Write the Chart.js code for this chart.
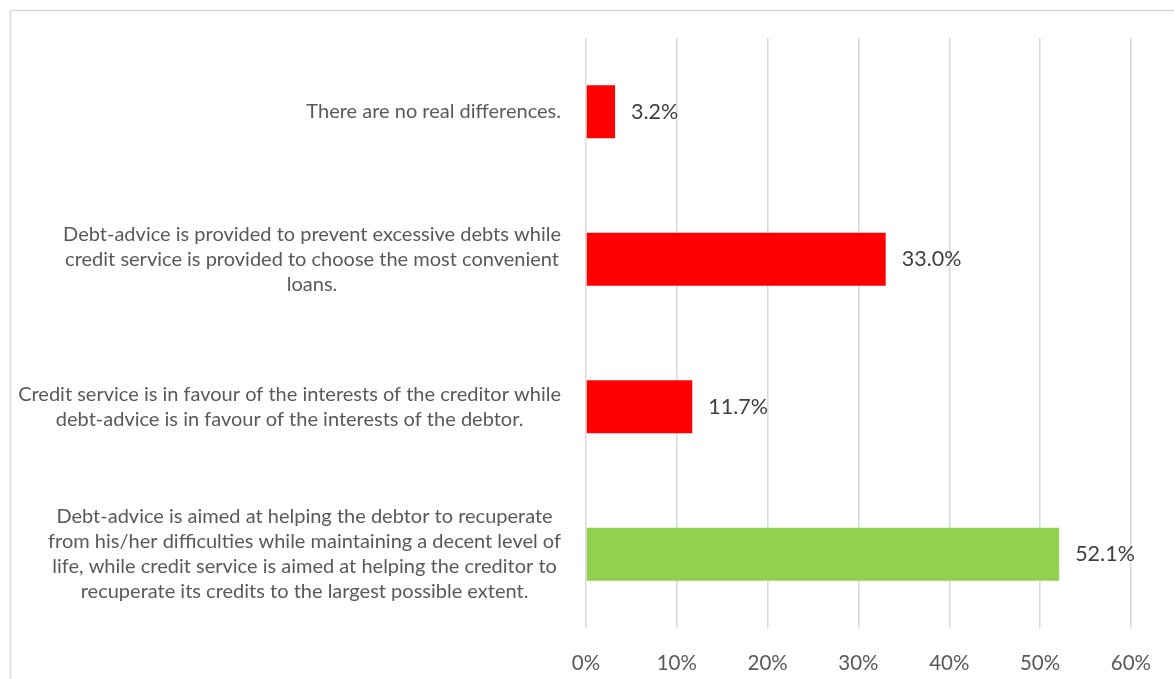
<!DOCTYPE html>
<html>
<head>
<meta charset="utf-8">
<script src="https://cdn.jsdelivr.net/npm/chart.js@4/dist/chart.umd.min.js"></script>
<style>
  html, body { margin: 0; padding: 0; background: #ffffff; }
  #wrap { position: relative; width: 1174px; height: 679px; }
</style>
</head>
<body>
<div id="wrap"><canvas id="chart" width="1174" height="679"></canvas></div>
<script>
// Survey answers (each answer is a list of wrapped lines)
const categories = [
  ["There are no real differences."],
  ["Debt-advice is provided to prevent excessive debts while",
   "credit service is provided to choose the most convenient",
   "loans."],
  ["Credit service is in favour of the interests of the creditor while",
   "debt-advice is in favour of the interests of the debtor."],
  ["Debt-advice is aimed at helping the debtor to recuperate",
   "from his/her difficulties while maintaining a decent level of",
   "life, while credit service is aimed at helping the creditor to",
   "recuperate its credits to the largest possible extent."]
];
const shares = [3.2, 33.0, 11.7, 52.1];
const barColors = ["#FF0000", "#FF0000", "#FF0000", "#92D050"];
const xTicks = [0, 10, 20, 30, 40, 50, 60];

const FONT = "Lato, 'Noto Sans', sans-serif";

// Frame lines along the top and left edge of the chart box
const framePlugin = {
  id: 'frame',
  beforeDraw(chart) {
    const ctx = chart.ctx;
    ctx.save();
    ctx.strokeStyle = '#D9D9D9';
    ctx.lineWidth = 1.5;
    ctx.beginPath();
    ctx.moveTo(10.5, chart.height);
    ctx.lineTo(10.5, 10.5);
    ctx.lineTo(chart.width, 10.5);
    ctx.stroke();
    ctx.restore();
  }
};

// Category labels: block right-aligned to the axis, lines centred within the block
const categoryLabelPlugin = {
  id: 'categoryLabels',
  afterDraw(chart) {
    const ctx = chart.ctx;
    const y = chart.scales.y;
    const rightEdge = chart.chartArea.left - 25;
    const lineH = 25;
    ctx.save();
    ctx.font = "20px " + FONT;
    ctx.fillStyle = '#595959';
    ctx.textAlign = 'center';
    ctx.textBaseline = 'middle';
    categories.forEach((lines, i) => {
      const cy = y.getPixelForValue(i);
      const w = Math.max(...lines.map(l => ctx.measureText(l).width));
      const cx = rightEdge - w / 2;
      const top = cy - (lines.length - 1) * lineH / 2;
      lines.forEach((l, k) => ctx.fillText(l, cx, top + k * lineH));
    });
    ctx.restore();
  }
};

// Value labels just past the end of each bar
const valueLabelPlugin = {
  id: 'valueLabels',
  afterDatasetsDraw(chart) {
    const ctx = chart.ctx;
    const meta = chart.getDatasetMeta(0);
    ctx.save();
    ctx.font = "21.5px " + FONT;
    ctx.fillStyle = '#404040';
    ctx.textAlign = 'left';
    ctx.textBaseline = 'middle';
    meta.data.forEach((bar, i) => {
      ctx.fillText(shares[i].toFixed(1) + '%', bar.x + 16, bar.y);
    });
    ctx.restore();
  }
};

new Chart(document.getElementById('chart'), {
  type: 'bar',
  data: {
    labels: categories.map(c => c.join(' ')),
    datasets: [{
      data: shares,
      backgroundColor: barColors,
      borderWidth: 0,
      barPercentage: 0.36,
      categoryPercentage: 1.0
    }]
  },
  options: {
    indexAxis: 'y',
    responsive: false,
    animation: false,
    devicePixelRatio: 1,
    layout: { padding: { left: 586, right: 43, top: 38, bottom: 0 } },
    plugins: {
      legend: { display: false },
      tooltip: { enabled: false }
    },
    scales: {
      x: {
        min: 0,
        max: 60,
        afterBuildTicks(axis) { axis.ticks = xTicks.map(v => ({ value: v })); },
        afterFit(axis) { axis.height = 51; },
        border: { display: false },
        grid: { color: '#D9D9D9', lineWidth: 1.5, drawTicks: false },
        ticks: {
          padding: 23,
          color: '#595959',
          font: { family: FONT, size: 20.5 },
          callback: v => v + '%'
        }
      },
      y: {
        display: false
      }
    }
  },
  plugins: [framePlugin, categoryLabelPlugin, valueLabelPlugin]
});
</script>
</body>
</html>
